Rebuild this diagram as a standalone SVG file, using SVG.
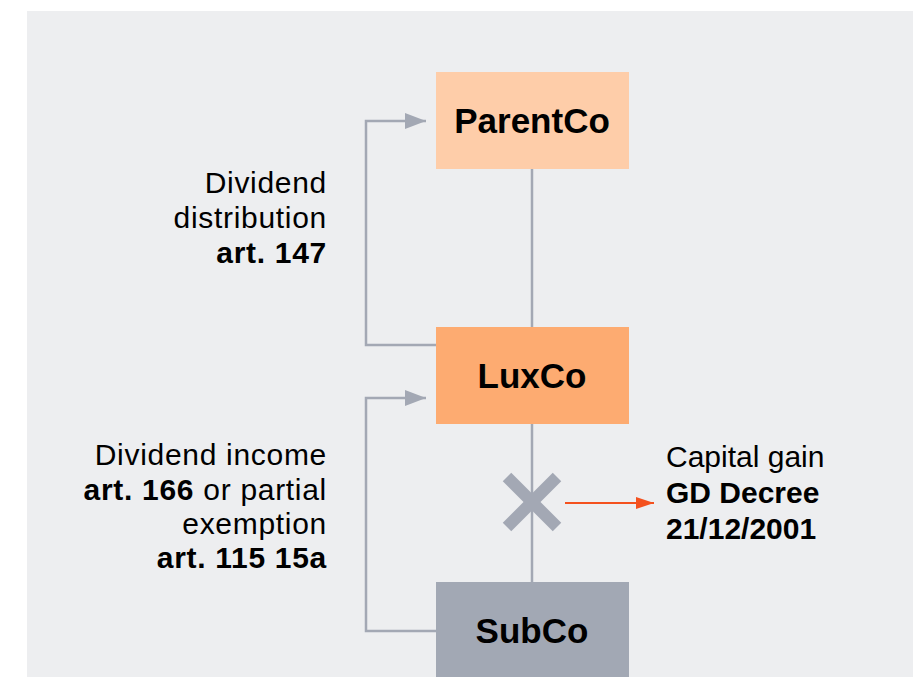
<svg xmlns="http://www.w3.org/2000/svg" width="913" height="677" viewBox="0 0 913 677">
<style>
.lbl{font-family:"Liberation Sans",Arial,sans-serif;font-size:30px;fill:#000}
.ls{letter-spacing:0.7px}
.b{font-weight:bold}
.node{font-family:"Liberation Sans",Arial,sans-serif;font-size:35px;font-weight:bold;fill:#000;text-anchor:middle}
.conn{fill:none;stroke:#a3a8b4;stroke-width:2.5}
</style>
<defs>
<marker id="ag" markerUnits="userSpaceOnUse" markerWidth="22" markerHeight="16" refX="21" refY="8" orient="auto">
<path d="M0,0 L21,8 L0,16 Z" fill="#a3a8b4"/>
</marker>
<marker id="ao" markerUnits="userSpaceOnUse" markerWidth="18" markerHeight="12" refX="18" refY="6" orient="auto">
<path d="M0,0 L18,6 L0,12 Z" fill="#f4511e"/>
</marker>
</defs>
<rect x="27" y="11" width="886" height="666" fill="#edeef0"/>
<g id="connectors">
<line class="conn" x1="532" y1="169" x2="532" y2="327"/>
<line class="conn" x1="532" y1="424" x2="532" y2="582"/>
<polyline class="conn" points="436,345 366,345 366,121 426,121" marker-end="url(#ag)"/>
<polyline class="conn" points="436,631 366,631 366,398 426,398" marker-end="url(#ag)"/>
<g id="cross" stroke="#a3a8b4" stroke-width="12">
<line x1="507" y1="477" x2="557" y2="527"/>
<line x1="557" y1="477" x2="507" y2="527"/>
</g>
<line x1="565" y1="503" x2="654" y2="503" stroke="#f4511e" stroke-width="2" marker-end="url(#ao)"/>
</g>
<g id="ParentCo">
<rect x="436" y="72" width="193" height="97" fill="#fecda9"/>
<text class="node" x="532" y="133">ParentCo</text>
</g>
<g id="LuxCo">
<rect x="436" y="327" width="193" height="97" fill="#fdab71"/>
<text class="node" x="532" y="388">LuxCo</text>
</g>
<g id="SubCo">
<rect x="436" y="582" width="193" height="97" fill="#a2a8b4"/>
<text class="node" x="532" y="643">SubCo</text>
</g>
<g id="label-distribution" class="lbl ls" text-anchor="end">
<text x="327" y="193">Dividend</text>
<text x="327" y="228">distribution</text>
<text x="327" y="263" class="b">art. 147</text>
</g>
<g id="label-income" class="lbl ls" text-anchor="end">
<text x="327" y="465">Dividend income</text>
<text x="327" y="500"><tspan class="b">art. 166</tspan> or partial</text>
<text x="327" y="534">exemption</text>
<text x="327" y="568" class="b">art. 115 15a</text>
</g>
<g id="label-capital" class="lbl">
<text x="666" y="467">Capital gain</text>
<text x="666" y="503" class="b">GD Decree</text>
<text x="666" y="539" class="b">21/12/2001</text>
</g>
</svg>
